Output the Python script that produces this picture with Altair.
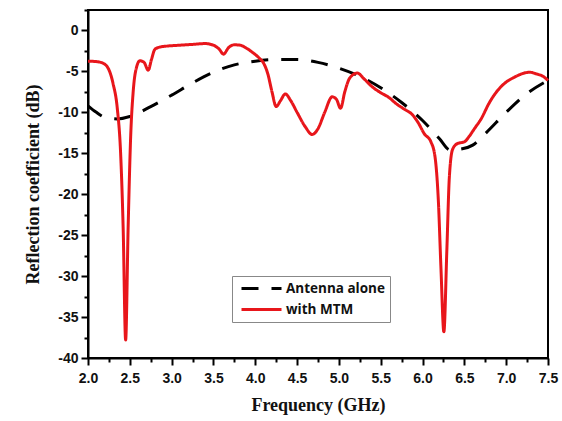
import altair as alt
import pandas as pd

# With MTM (red solid)
mtm_freq = [2.00, 2.10, 2.18, 2.25, 2.30, 2.35, 2.39, 2.42, 2.45, 2.48, 2.51, 2.54, 2.58, 2.62,
            2.67, 2.72, 2.76, 2.80, 2.87, 2.95, 3.10, 3.25, 3.40, 3.50, 3.57, 3.62, 3.68, 3.75,
            3.82, 3.90, 3.97, 4.05, 4.10, 4.15, 4.20, 4.25, 4.30, 4.36, 4.42, 4.50, 4.60, 4.68,
            4.75, 4.83, 4.92, 4.97, 5.02, 5.07, 5.13, 5.22, 5.30, 5.40, 5.50, 5.60, 5.68, 5.78,
            5.88, 5.95, 6.02, 6.10, 6.15, 6.19, 6.22, 6.255, 6.29, 6.32, 6.36, 6.42, 6.50, 6.56,
            6.62, 6.70, 6.80, 6.90, 7.00, 7.10, 7.20, 7.28, 7.36, 7.44, 7.50]
mtm_db = [-3.75, -3.8, -4.0, -4.8, -6.5, -9.5, -15, -24, -37.8, -24, -13, -7.5, -4.5, -3.7,
          -3.9, -4.85, -3.5, -2.3, -2.0, -1.9, -1.8, -1.7, -1.6, -1.8, -2.3, -2.9, -2.1, -1.75,
          -1.8, -2.2, -2.7, -3.4, -4.0, -5.3, -7.5, -9.3, -8.6, -7.75, -8.5, -10.0, -11.8, -12.7,
          -12.0, -10.0, -8.1, -8.4, -9.5, -7.5, -5.8, -5.2, -5.9, -6.9, -7.6, -8.2, -8.9, -9.6,
          -10.3, -11.3, -12.6, -13.6, -15.5, -21, -29, -36.8, -27, -18, -14.5, -13.8, -13.6, -12.9,
          -12.0, -10.8, -8.8, -7.3, -6.3, -5.7, -5.25, -5.1, -5.3, -5.6, -6.1]

# Antenna alone (black dashed)
ant_freq = [2.00, 2.10, 2.20, 2.35, 2.50, 2.75, 3.00, 3.25, 3.50, 3.75, 4.00, 4.25, 4.50, 4.75,
            5.00, 5.25, 5.50, 5.75, 6.00, 6.20, 6.33, 6.45, 6.60, 6.75, 7.00, 7.25, 7.50]
ant_db = [-9.2, -10.0, -10.6, -10.8, -10.5, -9.3, -7.9, -6.4, -5.1, -4.2, -3.75, -3.55, -3.55, -3.9,
          -4.6, -5.6, -7.0, -8.8, -11.0, -13.2, -14.6, -14.5, -14.0, -12.6, -10.0, -7.7, -6.1]

series_names = ["Antenna alone", "with MTM"]

df = pd.concat([
    pd.DataFrame({"freq": ant_freq, "db": ant_db, "series": series_names[0]}),
    pd.DataFrame({"freq": mtm_freq, "db": mtm_db, "series": series_names[1]}),
])

x_ticks = [2.0 + 0.25 * i for i in range(23)]
y_ticks = [-40 + 2.5 * i for i in range(18)]

label_font = "Liberation Sans"
title_font = "Liberation Serif"

chart = alt.Chart(df).mark_line(strokeWidth=3, interpolate="monotone").encode(
    x=alt.X("freq:Q",
            scale=alt.Scale(domain=[2.0, 7.5], nice=False, zero=False),
            axis=alt.Axis(title="Frequency (GHz)", values=x_ticks,
                          labelExpr="datum.value % 0.5 == 0 ? format(datum.value, '.1f') : ''",
                          tickSize={"condition": {"test": "datum.value % 0.5 != 0", "value": 4}, "value": 7},
                          labelOverlap=False, labelPadding=6, titlePadding=11,
                          labelFlush=False)),
    y=alt.Y("db:Q",
            scale=alt.Scale(domain=[-40, 2.5], nice=False, zero=False),
            axis=alt.Axis(title="Reflection coefficient (dB)", values=y_ticks,
                          labelExpr="datum.value % 5 == 0 ? '' + datum.value : ''",
                          tickSize={"condition": {"test": "datum.value % 5 != 0", "value": 4}, "value": 7},
                          labelOverlap=False, labelPadding=3, titlePadding=15,
                          labelFlush=False)),
    color=alt.Color("series:N",
                    scale=alt.Scale(domain=series_names, range=["#000000", "#e8161b"]),
                    legend=alt.Legend(title=None, orient="none", legendX=144, legendY=266,
                                      symbolType="stroke", symbolSize=1600, symbolStrokeWidth=3,
                                      labelFont="Open Sans", labelFontWeight="bold", labelFontSize=13.5,
                                      labelColor="#111", strokeColor="#888888", fillColor="white",
                                      padding=5, rowPadding=6, labelOffset=3, symbolOffset=3,
                                      clipHeight=15)),
    strokeDash=alt.StrokeDash("series:N",
                              scale=alt.Scale(domain=series_names, range=[[17, 13], [1, 0]]),
                              legend=None),
    order=alt.Order("series:N"),
).properties(
    width=460,
    height=348,
    autosize=alt.AutoSizeParams(type="none"),
    padding={"left": 88, "top": 10, "right": 14, "bottom": 63},
).configure_view(
    stroke="#000000", strokeWidth=2
).configure_axis(
    domainColor="#000000", domainWidth=2, tickColor="#000000", tickWidth=2,
    labelFont=label_font, labelFontWeight="bold", labelFontSize=14, labelColor="#111111",
    titleFont=title_font, titleFontWeight="bold", titleFontSize=18, titleColor="#111111",
    grid=False
)

chart.save("out.html", embed_options={"renderer": "svg", "actions": False})
